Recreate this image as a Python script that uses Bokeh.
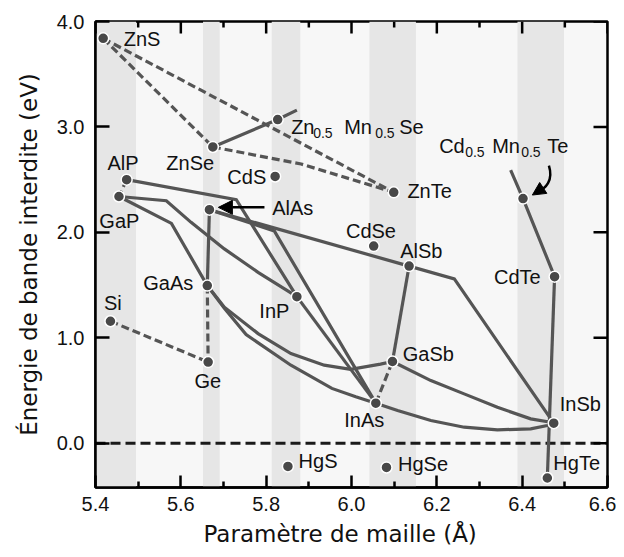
import math
from bokeh.plotting import figure
from bokeh.models import (Range1d, FixedTicker, BoxAnnotation, Span, Title,
                          Arrow, NormalHead, ColumnDataSource)
from bokeh.core.properties import value
from bokeh.embed import file_html
from bokeh.resources import INLINE

# ---------------- data ----------------
names = ["ZnS", "ZnSe", "ZnMnSe", "CdS", "AlP", "GaP", "AlAs", "ZnTe", "CdMnTe",
         "CdSe", "AlSb", "CdTe", "GaAs", "Si", "Ge", "InP", "GaSb", "InAs",
         "InSb", "HgTe", "HgSe", "HgS"]
lattice = [5.418, 5.675, 5.827, 5.821, 5.473, 5.455, 5.667, 6.099, 6.402,
           6.052, 6.135, 6.476, 5.662, 5.435, 5.664, 5.872, 6.096, 6.057,
           6.474, 6.459, 6.082, 5.851]
gap = [3.84, 2.81, 3.07, 2.53, 2.50, 2.34, 2.215, 2.38, 2.32,
       1.87, 1.68, 1.58, 1.495, 1.157, 0.77, 1.39, 0.775, 0.38,
       0.19, -0.33, -0.23, -0.22]

# simple labels (left edge, vertical centre)
label_text = ["ZnS", "ZnSe", "AlP", "CdS", "AlAs", "GaP", "ZnTe", "CdSe", "AlSb",
              "CdTe", "GaAs", "Si", "InP", "Ge", "GaSb", "InAs", "InSb", "HgS",
              "HgSe", "HgTe"]
label_x = [5.466, 5.566, 5.428, 5.709, 5.814, 5.409, 6.131, 5.987, 6.114,
           6.334, 5.512, 5.420, 5.784, 5.632, 6.120, 5.983, 6.488, 5.876,
           6.109, 6.473]
label_y = [3.836, 2.661, 2.661, 2.528, 2.229, 2.111, 2.389, 2.016, 1.827,
           1.573, 1.517, 1.327, 1.251, 0.594, 0.847, 0.222, 0.373, -0.173,
           -0.195, -0.190]

# alloy labels with subscripts
znmnse_parts = ["Zn", "0.5", "Mn", "0.5", "Se"]
cdmnte_parts = ["Cd", "0.5", "Mn", "0.5", "Te"]
znmnse_anchor = (5.8585, 3.00)
cdmnte_anchor = (6.2055, 2.822)

# paths: entries are compound names or (x, y) points
solid_paths = [
    ["AlP", (5.730, 2.31), "InP"],
    ["GaP", (5.566, 2.30), (5.624, 2.095), (5.702, 1.843), (5.781, 1.621),
     (5.843, 1.464), "InP"],
    ["GaP", (5.578, 2.085), "GaAs"],
    ["AlAs", "GaAs"],
    ["AlAs", "AlSb"],
    ["AlAs", (5.819, 2.014), "InAs"],
    ["InP", "InAs"],
    ["GaAs", (5.702, 1.28), (5.753, 1.03), (5.858, 0.74), (5.954, 0.52),
     (6.010, 0.44), "InAs"],
    ["GaAs", (5.702, 1.29), (5.781, 1.04), (5.858, 0.85), (5.936, 0.74),
     (5.998, 0.70), (6.068, 0.75), "GaSb"],
    ["AlSb", "GaSb"],
    ["AlSb", (6.241, 1.558), "InSb"],
    ["GaSb", (6.186, 0.594), (6.264, 0.468), (6.342, 0.341), (6.42, 0.231),
     (6.467, 0.199), "InSb"],
    ["InAs", (6.108, 0.31), (6.186, 0.215), (6.264, 0.152), (6.342, 0.127),
     (6.42, 0.136), (6.459, 0.168), "InSb"],
    ["CdTe", "HgTe"],
    [(6.373, 2.59), "CdMnTe", "CdTe"],
    ["ZnSe", "ZnMnSe", (5.872, 3.16)],
]
dashed_paths = [
    ["AlP", "GaP"],
    ["InAs", "GaSb"],
    ["GaAs", "Ge"],
    ["Si", "Ge"],
    ["ZnS", "ZnSe"],
    ["ZnS", "ZnTe"],
    ["ZnSe", (5.882, 2.648), "ZnTe"],
]

# shaded lattice bands
band_left = [5.40, 5.652, 5.813, 6.042, 6.389]
band_right = [5.495, 5.691, 5.880, 6.151, 6.498]

x_ticks = [5.4, 5.6, 5.8, 6.0, 6.2, 6.4, 6.6]
x_tick_labels = ["5.4", "5.6", "5.8", "6.0", "6.2", "6.4", "6.6"]
x_minor = [5.5, 5.7, 5.9, 6.1, 6.3, 6.5]
y_ticks = [0, 1, 2, 3, 4]
y_tick_labels = ["0.0", "1.0", "2.0", "3.0", "4.0"]
x_lo, x_hi = 5.4, 6.6
y_lo, y_hi = -0.42, 4.0

# arrows (data coordinates)
alas_arrow = (5.796, 2.237, 5.688, 2.237)
cd_curve = (6.4627, 2.632, 6.4737, 2.490, 6.455, 2.414, 6.436, 2.386)
cd_head_tip = (6.4239, 2.354)

# ---------------- figure ----------------
pos = dict(zip(names, zip(lattice, gap)))

def path_xy(path):
    xs, ys = [], []
    for e in path:
        x, y = pos[e] if isinstance(e, str) else e
        xs.append(x)
        ys.append(y)
    return xs, ys

LINE = "#555555"
TXT = "#111111"
SANS = "Liberation Sans"

p = figure(width=616, height=555,
           x_range=Range1d(x_lo, x_hi), y_range=Range1d(y_lo, y_hi),
           output_backend="svg", toolbar_location=None,
           min_border_left=95, min_border_right=9, min_border_top=21,
           min_border_bottom=68, background_fill_color="#f7f7f7",
           border_fill_color="white", outline_line_color="black",
           outline_line_width=2.5)
p.grid.visible = False

for l, r in zip(band_left, band_right):
    p.add_layout(BoxAnnotation(left=l, right=r, fill_color="#e6e6e6",
                               fill_alpha=1.0, line_color=None, level="underlay"))
p.add_layout(Span(location=0, dimension="width", line_color="#1a1a1a",
                  line_width=3, line_dash="10 5", level="underlay"))

def style_axis(ax, ticks, labels, minor, tick_len, standoff):
    ax.ticker = FixedTicker(ticks=ticks, minor_ticks=minor)
    ax.major_label_overrides = {t: s for t, s in zip(ticks, labels)}
    ax.major_tick_in = tick_len
    ax.major_tick_out = 0
    ax.minor_tick_in = 6
    ax.minor_tick_out = 0
    ax.major_tick_line_width = 2.5
    ax.minor_tick_line_width = 2.5
    ax.axis_line_width = 2.5
    ax.axis_line_color = "black"
    ax.major_label_text_font = SANS
    ax.major_label_text_font_size = "20px"
    ax.major_label_text_color = TXT
    ax.major_label_standoff = standoff
    ax.axis_label_text_font = "DejaVu Sans"
    ax.axis_label_text_font_size = "23px"
    ax.axis_label_text_font_style = "normal"
    ax.axis_label_text_color = TXT

style_axis(p.xaxis[0], x_ticks, x_tick_labels, x_minor, 12, 9)
style_axis(p.yaxis[0], y_ticks, y_tick_labels, [], 14, 11)
p.yaxis.axis_label = "Énergie de bande interdite (eV)"
p.yaxis.axis_label_standoff = 12

# x-axis title, slightly left of centre as in the reference
p.add_layout(Title(text="Paramètre de maille (Å)", align="left", offset=108,
                   text_font="DejaVu Sans", text_font_size="23px",
                   text_font_style="normal", text_color=TXT, standoff=10),
             "below")

# mirrored ticks on top and right edges (screen-length rays)
p.ray(x=x_ticks, y=[y_hi] * len(x_ticks), length=12, length_units="screen",
      angle=-math.pi / 2, line_color="black", line_width=2.5)
p.ray(x=x_minor, y=[y_hi] * len(x_minor), length=6, length_units="screen",
      angle=-math.pi / 2, line_color="black", line_width=2.5)
p.ray(x=[x_hi] * len(y_ticks), y=y_ticks, length=14, length_units="screen",
      angle=math.pi, line_color="black", line_width=2.5)

for path in solid_paths:
    xs, ys = path_xy(path)
    p.line(xs, ys, line_color=LINE, line_width=3.2, line_join="miter")
for path in dashed_paths:
    xs, ys = path_xy(path)
    p.line(xs, ys, line_color=LINE, line_width=3.2, line_dash="8 4")

p.scatter(lattice, gap, size=11, fill_color="#484848", line_color="white",
          line_width=1.5)

src = ColumnDataSource(dict(x=label_x, y=label_y, t=label_text))
p.text("x", "y", text="t", source=src, text_font=value(SANS),
       text_font_size=value("20px"), text_color=TXT, text_baseline="middle",
       text_align="left")

def sub_label(parts, anchor, offsets):
    for part, off in zip(parts, offsets):
        is_sub = part == "0.5"
        p.text([anchor[0]], [anchor[1]], text=[part], x_offset=off,
               y_offset=6 if is_sub else 0, text_font=value(SANS),
               text_font_size=value("14px" if is_sub else "20px"),
               text_color=TXT, text_baseline="middle", text_align="left")

sub_label(znmnse_parts, znmnse_anchor, [0, 22, 53, 84, 108])
sub_label(cdmnte_parts, cdmnte_anchor, [0, 26, 53, 82, 108])

p.add_layout(Arrow(end=NormalHead(size=14, fill_color="black", line_color="black"),
                   x_start=alas_arrow[0], y_start=alas_arrow[1],
                   x_end=alas_arrow[2], y_end=alas_arrow[3],
                   line_color="black", line_width=2.5))
p.bezier(x0=[cd_curve[0]], y0=[cd_curve[1]], cx0=[cd_curve[2]], cy0=[cd_curve[3]],
         cx1=[cd_curve[4]], cy1=[cd_curve[5]], x1=[cd_curve[6]], y1=[cd_curve[7]],
         line_color="black", line_width=2.5)
p.add_layout(Arrow(end=NormalHead(size=13, fill_color="black", line_color="black"),
                   x_start=cd_curve[6], y_start=cd_curve[7],
                   x_end=cd_head_tip[0], y_end=cd_head_tip[1],
                   line_color="black", line_width=2.5))

open("out.html", "w").write(file_html(p, INLINE))
